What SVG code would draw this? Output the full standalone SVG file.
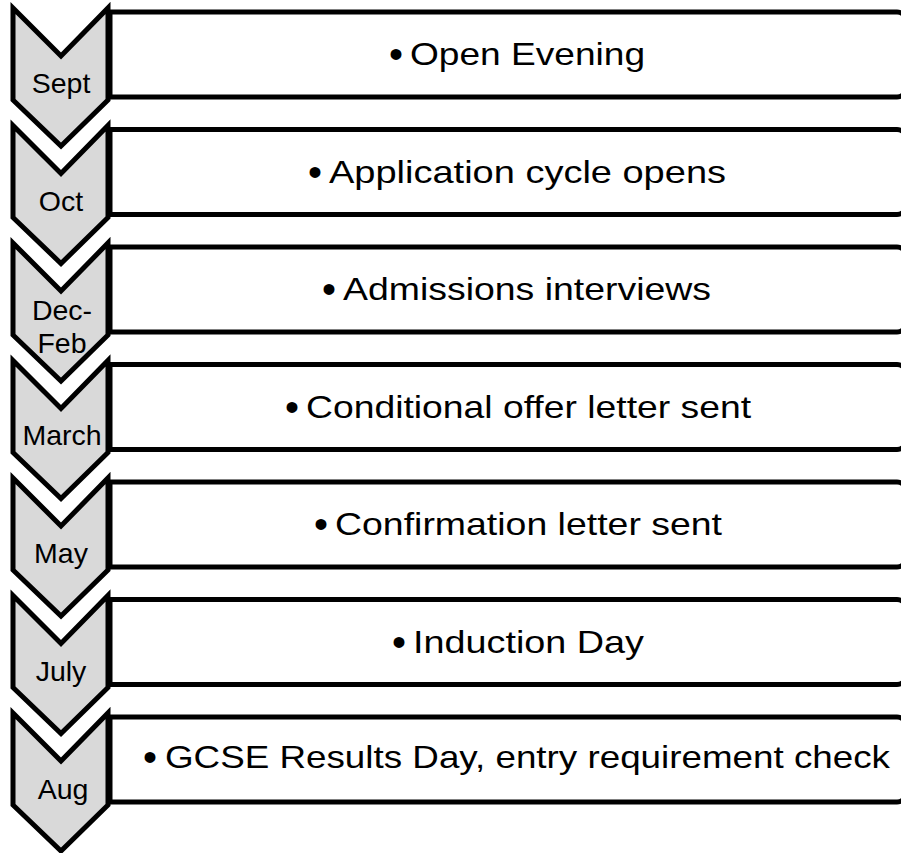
<svg xmlns="http://www.w3.org/2000/svg" width="901" height="853" viewBox="0 0 901 853">
<defs>
<style>
.chev{fill:#d9d9d9;stroke:#000;stroke-width:5;stroke-linejoin:miter}
.box{fill:#fff;stroke:#000;stroke-width:5}
.lbl{font-family:"Liberation Sans",Arial,Helvetica,sans-serif;font-size:28.5px;fill:#000;text-anchor:middle}
.txt{font-family:"Liberation Sans",Arial,Helvetica,sans-serif;font-size:32px;fill:#000}
.bul{font-family:"Liberation Sans",Arial,Helvetica,sans-serif;font-size:40px;fill:#000;text-anchor:middle}
</style>
<path id="chevShape" d="M13,0 L61,48 L108,0 L108,92 L61,138 L13,92 Z"/>
</defs>
<rect width="901" height="853" fill="#fff"/>
<g id="connectors"></g>

<g id="step1">
<use href="#chevShape" class="chev" transform="translate(0,8)"/>
<path class="box" d="M110,12 H897 A9,9 0 0 1 906,21 V88 A9,9 0 0 1 897,97 H110 Z"/>
<text class="lbl" x="61" y="93">Sept</text>
<text class="bul" x="396" y="68">•</text>
<text class="txt" x="410" y="65" textLength="235" lengthAdjust="spacingAndGlyphs">Open Evening</text>
</g>

<g id="step2">
<use href="#chevShape" class="chev" transform="translate(0,125.5)"/>
<path class="box" d="M110,129.5 H897 A9,9 0 0 1 906,138.5 V205.5 A9,9 0 0 1 897,214.5 H110 Z"/>
<text class="lbl" x="61" y="211">Oct</text>
<text class="bul" x="315" y="185.5">•</text>
<text class="txt" x="329" y="182.5" textLength="397" lengthAdjust="spacingAndGlyphs">Application cycle opens</text>
</g>

<g id="step3">
<use href="#chevShape" class="chev" transform="translate(0,243)"/>
<path class="box" d="M110,247 H897 A9,9 0 0 1 906,256 V323 A9,9 0 0 1 897,332 H110 Z"/>
<text class="lbl" x="62" y="320">Dec-</text>
<text class="lbl" x="62" y="353">Feb</text>
<text class="bul" x="329" y="303">•</text>
<text class="txt" x="343" y="300" textLength="368" lengthAdjust="spacingAndGlyphs">Admissions interviews</text>
</g>

<g id="step4">
<use href="#chevShape" class="chev" transform="translate(0,360.5)"/>
<path class="box" d="M110,364.5 H897 A9,9 0 0 1 906,373.5 V440.5 A9,9 0 0 1 897,449.5 H110 Z"/>
<text class="lbl" x="62" y="445">March</text>
<text class="bul" x="292" y="420.5">•</text>
<text class="txt" x="306" y="417.5" textLength="445" lengthAdjust="spacingAndGlyphs">Conditional offer letter sent</text>
</g>

<g id="step5">
<use href="#chevShape" class="chev" transform="translate(0,478)"/>
<path class="box" d="M110,482 H897 A9,9 0 0 1 906,491 V558 A9,9 0 0 1 897,567 H110 Z"/>
<text class="lbl" x="61" y="563">May</text>
<text class="bul" x="321" y="538">•</text>
<text class="txt" x="335" y="535" textLength="387" lengthAdjust="spacingAndGlyphs">Confirmation letter sent</text>
</g>

<g id="step6">
<use href="#chevShape" class="chev" transform="translate(0,595.5)"/>
<path class="box" d="M110,599.5 H897 A9,9 0 0 1 906,608.5 V675.5 A9,9 0 0 1 897,684.5 H110 Z"/>
<text class="lbl" x="61" y="681">July</text>
<text class="bul" x="399" y="655.5">•</text>
<text class="txt" x="413" y="652.5" textLength="231" lengthAdjust="spacingAndGlyphs">Induction Day</text>
</g>

<g id="step7">
<use href="#chevShape" class="chev" transform="translate(0,713)"/>
<path class="box" d="M110,717 H897 A9,9 0 0 1 906,726 V793 A9,9 0 0 1 897,802 H110 Z"/>
<text class="lbl" x="63" y="799">Aug</text>
<text class="bul" x="150" y="771">•</text>
<text class="txt" x="165" y="768" textLength="725" lengthAdjust="spacingAndGlyphs">GCSE Results Day, entry requirement check</text>
</g>
</svg>
